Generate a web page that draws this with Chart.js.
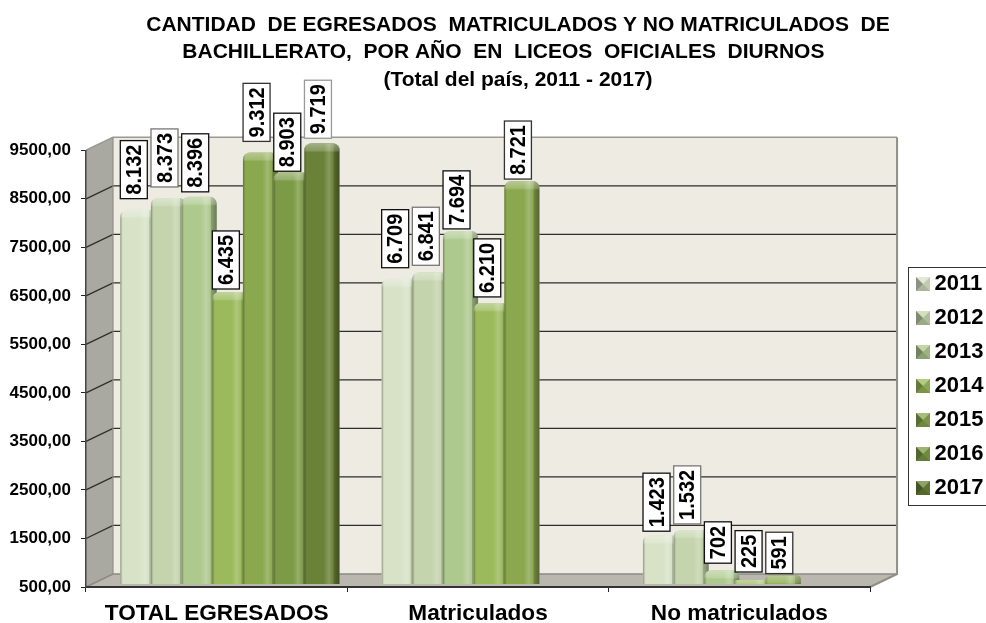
<!DOCTYPE html>
<html><head><meta charset="utf-8">
<style>html,body{margin:0;padding:0;background:#fff}canvas{display:block}</style>
<script src="https://cdn.jsdelivr.net/npm/chart.js@4"></script>
</head><body>
<canvas id="c" width="986" height="623"></canvas>
<script>
const categories = ['TOTAL EGRESADOS', 'Matriculados', 'No matriculados'];
const seriesNames = ['2011', '2012', '2013', '2014', '2015', '2016', '2017'];
const v2011 = [8132, 6709, 1423];
const v2012 = [8373, 6841, 1532];
const v2013 = [8396, 7694, 702];
const v2014 = [6435, 6210, 225];
const v2015 = [9312, 8721, 591];
const v2016 = [8903, null, null];
const v2017 = [9719, null, null];
const seriesValues = [v2011, v2012, v2013, v2014, v2015, v2016, v2017];
const seriesColors = ['#d7e2c6', '#c4d4ac', '#aec98e', '#9aba5b', '#8aa84e', '#7d9b46', '#6a8238'];
const labelBorders = ['#111', '#777', '#111', '#111', '#333', '#111', '#999'];
const axisMin = 500, axisMax = 9500, axisStep = 1000;

// look of the 3D frame
const DEPTH_X = 27, DEPTH_Y = 13, BAR_DX = 13.2, BAR_DY = -7, BAR_FOOT = 4, LABEL_DX = -4;
const labelGaps = [[11, 11, 4], [11, 7, 6], [5, 2, 7], [3, 6, 8], [11, 2, 2], [1, 0, 0], [5, 0, 0]];

function icon(color) {
  const c = document.createElement('canvas'); c.width = 14; c.height = 14;
  const g = c.getContext('2d');
  g.fillStyle = color; g.fillRect(0, 0, 14, 14);
  const tri = (pts, fill) => { g.fillStyle = fill; g.beginPath(); pts.forEach((p, i) => i ? g.lineTo(p[0], p[1]) : g.moveTo(p[0], p[1])); g.closePath(); g.fill(); };
  tri([[0, 0], [14, 0], [7, 7]], 'rgba(255,255,255,.25)');
  tri([[0, 0], [0, 14], [7, 7]], 'rgba(0,0,0,.35)');
  tri([[0, 14], [14, 14], [7, 7]], 'rgba(0,0,0,.2)');
  tri([[14, 0], [14, 14], [7, 7]], 'rgba(0,0,0,.1)');
  return c;
}
const icons = seriesColors.map(icon);

function shadeBars(chart, index) {
  const ctx = chart.ctx, d = chart.data.datasets[index];
  chart.getDatasetMeta(index).data.forEach((el, j) => {
    if (d.data[j] == null) return;
    const w = el.width, x0 = el.x - w / 2, y0 = el.y, h = el.base - el.y, r = Math.min(7, h / 2, w / 2);
    ctx.save();
    ctx.beginPath(); ctx.roundRect(x0, y0, w, h, [r, r, 0, 0]); ctx.clip();
    const g = ctx.createLinearGradient(x0, 0, x0 + w, 0);
    g.addColorStop(0, 'rgba(50,50,35,.45)'); g.addColorStop(.06, 'rgba(50,50,35,.05)'); g.addColorStop(.1, 'rgba(255,255,255,0)');
    g.addColorStop(.55, 'rgba(255,255,255,0)'); g.addColorStop(.7, 'rgba(255,255,255,.2)'); g.addColorStop(.8, 'rgba(255,255,255,.03)');
    g.addColorStop(.84, 'rgba(0,0,0,.2)'); g.addColorStop(1, 'rgba(0,0,0,.4)');
    ctx.fillStyle = g; ctx.fillRect(x0, y0, w, h);
    const v = ctx.createLinearGradient(0, y0, 0, y0 + 12);
    v.addColorStop(0, 'rgba(255,255,255,.38)'); v.addColorStop(.6, 'rgba(255,255,255,.2)'); v.addColorStop(.75, 'rgba(255,255,255,0)');
    ctx.fillStyle = v; ctx.fillRect(x0, y0, w, Math.min(h, 12));
    ctx.restore();
  });
}

function drawValueLabels(chart) {
  const ctx = chart.ctx;
  ctx.save();
  ctx.font = 'bold 20px "Liberation Sans"'; ctx.textAlign = 'center'; ctx.textBaseline = 'middle';
  chart.data.datasets.forEach((d, i) => chart.getDatasetMeta(i).data.forEach((el, j) => {
    const val = d.data[j]; if (val == null) return;
    const txt = String(val).replace(/\B(?=(\d{3})+$)/g, '.');
    const tw = ctx.measureText(txt).width, bh = tw + 8, bw = 27;
    const cx = el.x + BAR_DX + LABEL_DX, bottom = el.y + BAR_DY - labelGaps[i][j];
    ctx.fillStyle = '#fff'; ctx.strokeStyle = labelBorders[i]; ctx.lineWidth = 1.3;
    ctx.fillRect(cx - bw / 2, bottom - bh, bw, bh); ctx.strokeRect(cx - bw / 2, bottom - bh, bw, bh);
    ctx.save(); ctx.translate(cx, bottom - bh / 2); ctx.rotate(-Math.PI / 2); ctx.scale(1, 1.08);
    ctx.fillStyle = '#000'; ctx.fillText(txt, 0, 1); ctx.restore();
  }));
  ctx.restore();
}

const frame3d = {
  id: 'frame3d',
  afterLayout(chart) {
    const t = chart.titleBlock; t.left += 41.5; t.right += 41.5;
    const l = chart.legend, w = l.right - l.left, h = l.bottom - l.top, cy = 386;
    l.left = 910.5; l.right = l.left + w; l.top = cy - h / 2; l.bottom = cy + h / 2;
  },
  afterDatasetsUpdate(chart) {
    const a = chart.chartArea;
    chart.data.datasets.forEach((d, i) => chart.getDatasetMeta(i).data.forEach((el, j) => {
      if (d.data[j] == null) return;
      el.y = Math.min(a.bottom, Math.max(a.top, el.y));
      el.base = a.bottom + BAR_FOOT;
    }));
  },
  beforeDraw(chart) {
    const { ctx, chartArea: a, scales: { y } } = chart;
    const poly = (pts, fill) => { ctx.fillStyle = fill; ctx.beginPath(); pts.forEach((p, i) => i ? ctx.lineTo(p[0], p[1]) : ctx.moveTo(p[0], p[1])); ctx.closePath(); ctx.fill(); };
    const L = a.left, R = a.right, T = a.top, B = a.bottom, X = DEPTH_X, Y = DEPTH_Y;
    ctx.save();
    poly([[L + X, T - Y], [R + X, T - Y], [R + X, B - Y], [L + X, B - Y]], '#eeebe3');
    poly([[L, T], [L + X, T - Y], [L + X, B - Y], [L, B]], '#a9a8a1');
    poly([[L, B], [L + X, B - Y], [R + X, B - Y], [R, B]], '#b9b7ae');
    y.ticks.forEach(t => {
      const py = y.getPixelForValue(t.value);
      ctx.strokeStyle = t.value === axisMax ? '#9a9a94' : (t.value === axisMin ? '#8b8a84' : '#2e2e2a');
      ctx.lineWidth = t.value === axisMax || t.value === axisMin ? 1.5 : 1.3;
      ctx.beginPath(); ctx.moveTo(L, py); ctx.lineTo(L + X, py - Y); ctx.lineTo(R + X, py - Y); ctx.stroke();
    });
    ctx.strokeStyle = '#8f8f88'; ctx.lineWidth = 2;
    ctx.beginPath(); ctx.moveTo(R, B); ctx.lineTo(R + X, B - Y); ctx.lineTo(R + X, T - Y); ctx.stroke();
    ctx.lineWidth = 1.2; ctx.beginPath(); ctx.moveTo(L + X, T - Y); ctx.lineTo(L + X, B - Y); ctx.stroke();
    ctx.restore();
  },
  beforeDatasetsDraw(chart) {
    // later series sit in front, so the series are painted first to last
    chart.ctx.save(); chart.ctx.translate(BAR_DX, BAR_DY);
    chart.data.datasets.forEach((d, i) => { chart.getDatasetMeta(i).controller.draw(); shadeBars(chart, i); });
    chart.ctx.restore();
    drawValueLabels(chart);
    return false;
  },
  afterDraw(chart) {
    const ctx = chart.ctx;
    ctx.save(); ctx.strokeStyle = '#333'; ctx.lineWidth = 1;
    ctx.strokeRect(908.5, 267.5, 90, 238); ctx.restore();
  }
};

const FONT = '"Liberation Sans"';
new Chart(document.getElementById('c'), {
  type: 'bar',
  data: {
    labels: categories,
    datasets: seriesNames.map((n, i) => ({
      label: n, data: seriesValues[i], backgroundColor: seriesColors[i], clip: false,
      borderRadius: { topLeft: 7, topRight: 7, bottomLeft: 0, bottomRight: 0 }, borderSkipped: false
    }))
  },
  options: {
    responsive: false, animation: false, devicePixelRatio: 1,
    categoryPercentage: .822, barPercentage: 1.15,
    layout: { padding: { left: 0, right: 33, top: 0, bottom: 0 } },
    plugins: {
      tooltip: { enabled: false },
      title: {
        display: true, color: '#000',
        text: ['CANTIDAD  DE EGRESADOS  MATRICULADOS Y NO MATRICULADOS  DE', 'BACHILLERATO,  POR AÑO  EN  LICEOS  OFICIALES  DIURNOS     ', '(Total del país, 2011 - 2017)'],
        font: { family: FONT, weight: 'bold', size: 21, lineHeight: 1.29 },
        padding: { top: 12, bottom: 57 }
      },
      legend: {
        position: 'right',
        labels: {
          usePointStyle: true, boxWidth: 1, padding: 12, color: '#000',
          font: { family: FONT, weight: 'bold', size: 22 },
          generateLabels: c => Chart.defaults.plugins.legend.labels.generateLabels(c).map((it, i) => ({ ...it, pointStyle: icons[i] }))
        }
      }
    },
    scales: {
      x: {
        afterFit: s => { s.height = 36; },
        border: { color: '#333', width: 2 },
        grid: { drawOnChartArea: false, tickLength: 5, tickColor: '#222' },
        ticks: { color: '#000', padding: 8, font: { family: FONT, weight: 'bold', size: 22.6 }, maxRotation: 0 }
      },
      y: {
        min: axisMin, max: axisMax,
        afterFit: s => { s.width = 86; },
        border: { color: '#444', width: 1.5 },
        grid: { drawOnChartArea: false, tickLength: 5, tickColor: '#222' },
        ticks: { stepSize: axisStep, color: '#000', padding: 10, autoSkip: false, font: { family: FONT, weight: 'bold', size: 17 },
          callback: v => v.toFixed(2).replace('.', ',') }
      }
    }
  },
  plugins: [frame3d]
});
</script>
</body></html>
